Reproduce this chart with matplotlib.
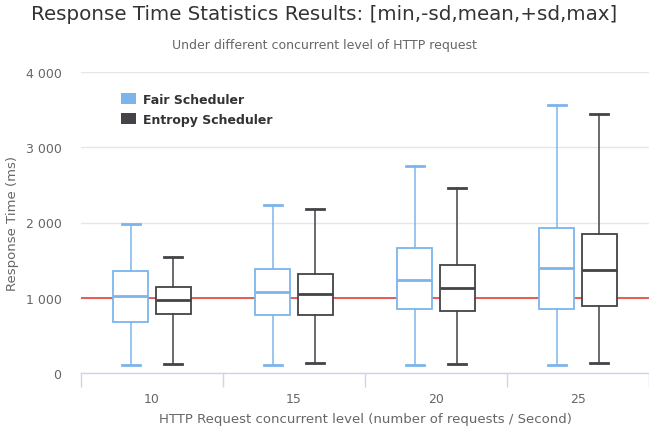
import matplotlib.pyplot as plt
from matplotlib.patches import Patch
from matplotlib.ticker import FuncFormatter

# categories (concurrent level)
levels = ['10', '15', '20', '25']

# Fair Scheduler: min, -sd, mean, +sd, max
fair_min = [100, 100, 100, 100]
fair_lo = [675, 765, 845, 845]
fair_mean = [1020, 1075, 1240, 1390]
fair_hi = [1355, 1385, 1655, 1925]
fair_max = [1980, 2235, 2745, 3560]

# Entropy Scheduler
ent_min = [115, 128, 115, 128]
ent_lo = [780, 765, 825, 885]
ent_mean = [975, 1045, 1135, 1375]
ent_hi = [1145, 1320, 1440, 1850]
ent_max = [1540, 2175, 2460, 3440]

ref_value = 1000

fair_col = '#7cb5ec'
ent_col = '#434348'


def make_stats(mn, lo, me, hi, mx):
    out = []
    for a, b, c, d, e in zip(mn, lo, me, hi, mx):
        out.append({'whislo': a, 'q1': b, 'med': c, 'q3': d, 'whishi': e, 'fliers': []})
    return out


fig = plt.figure(figsize=(6.49, 4.31), dpi=100)
ax = fig.add_axes([81 / 649, 1 - 374 / 431, 1 - 81 / 649, (374 - 73) / 431])

ax.axhline(ref_value, color='#e8312a', lw=1.1, zorder=1)

pos = range(len(levels))
for stats, col, off in [(make_stats(fair_min, fair_lo, fair_mean, fair_hi, fair_max), fair_col, -0.15),
                        (make_stats(ent_min, ent_lo, ent_mean, ent_hi, ent_max), ent_col, 0.15)]:
    ax.bxp(stats, positions=[p + off for p in pos], widths=0.243, showfliers=False,
           patch_artist=True,
           boxprops=dict(facecolor='white', edgecolor=col, lw=1.3),
           whiskerprops=dict(color=col, lw=1.1),
           capprops=dict(color=col, lw=2),
           medianprops=dict(color=col, lw=2),
           capwidths=0.125, zorder=3)

ax.set_ylim(0, 4000)
ax.set_xlim(-0.5, -0.5 + (649 - 81) / 144)
ax.set_yticks([0, 1000, 2000, 3000, 4000])
ax.yaxis.set_major_formatter(FuncFormatter(lambda v, p: f'{int(v):,}'.replace(',', ' ')))
ax.grid(axis='y', color='#e6e6e6', lw=1, zorder=0)
ax.set_axisbelow(True)

ax.set_xticks(list(pos))
ax.set_xticklabels(levels)
ax.set_xticks([p - 0.5 for p in pos] + [3.5], minor=True)
ax.tick_params(axis='x', which='major', length=0, pad=14, labelsize=9, labelcolor='#666666')
ax.tick_params(axis='x', which='minor', length=10, color='#ccd6eb', width=1)
ax.tick_params(axis='y', length=0, pad=14, labelsize=9, labelcolor='#666666')

for s in ['top', 'right', 'left']:
    ax.spines[s].set_visible(False)
ax.spines['bottom'].set_color('#ccd6eb')
ax.spines['bottom'].set_linewidth(1)

ax.set_xlabel('HTTP Request concurrent level (number of requests / Second)', fontsize=9.5,
              color='#666666', labelpad=5)
ax.set_ylabel('Response Time (ms)', fontsize=9.5, color='#666666', labelpad=5)

fig.text(0.5, 1 - 15 / 431, 'Response Time Statistics Results: [min,-sd,mean,+sd,max]',
         ha='center', va='center', fontsize=14.3, color='#333333')
fig.text(0.5, 1 - 46 / 431, 'Under different concurrent level of HTTP request',
         ha='center', va='center', fontsize=9, color='#666666')

handles = [Patch(facecolor=fair_col, edgecolor='none', label='Fair Scheduler'),
           Patch(facecolor=ent_col, edgecolor='none', label='Entropy Scheduler')]
leg = ax.legend(handles=handles, loc='upper left', bbox_to_anchor=(0.05, 0.967), frameon=False,
                prop={'weight': 'bold', 'size': 9}, handlelength=1.2, handleheight=1.0,
                handletextpad=0.6, labelspacing=0.55)
for t in leg.get_texts():
    t.set_color('#333333')

fig.savefig('out.png', dpi=100)
